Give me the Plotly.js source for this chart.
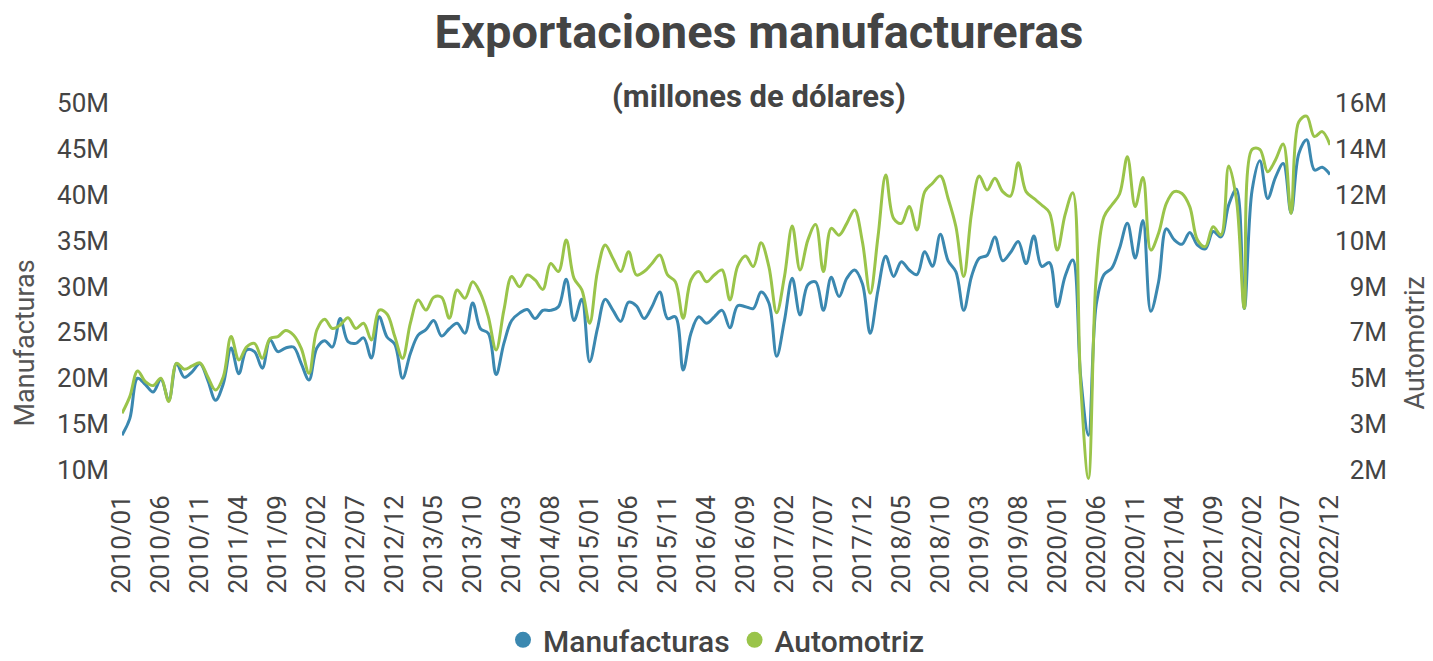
<!DOCTYPE html>
<html>
<head>
<meta charset="utf-8">
<script src="https://cdn.plot.ly/plotly-3.0.1.min.js"></script>
<style>
  html, body { margin: 0; padding: 0; background: #ffffff; }
  #chart { width: 1433px; height: 661px; }
</style>
</head>
<body>
<div id="chart"></div>
<script>
// Monthly categories 2010/01 .. 2022/12
const years = [2010, 2011, 2012, 2013, 2014, 2015, 2016, 2017, 2018, 2019, 2020, 2021, 2022];
const months = ["01","02","03","04","05","06","07","08","09","10","11","12"];
const categories = [];
years.forEach(y => months.forEach(m => categories.push(y + "/" + m)));

// Manufacturas (left axis, millones)
const manufacturas = [
  13.8, 15.6, 20.0, 19.3, 18.5, 19.9, 17.6, 21.6, 20.1, 20.7, 21.6, 19.8,
  17.6, 19.4, 23.3, 20.5, 23.1, 22.9, 21.1, 24.2, 22.9, 23.3, 23.4, 21.6,
  19.8, 23.3, 24.1, 23.4, 26.5, 24.0, 23.8, 24.4, 22.2, 26.7, 24.5, 23.7,
  20.0, 22.7, 24.7, 25.3, 26.3, 24.6, 25.4, 26.0, 24.9, 28.2, 25.4, 24.9,
  20.4, 23.8, 26.3, 27.1, 27.5, 26.5, 27.4, 27.4, 27.8, 30.8, 26.3, 28.6,
  21.8, 25.4, 28.6, 27.4, 26.2, 28.3, 27.9, 26.5, 27.8, 29.4, 26.5, 26.7,
  20.9, 24.9, 26.7, 26.0, 26.7, 27.4, 25.5, 27.9, 27.8, 27.6, 29.4, 28.2,
  22.4, 26.3, 30.9, 26.9, 30.2, 30.5, 27.4, 31.0, 28.9, 30.9, 31.8, 30.3,
  24.9, 29.6, 33.3, 31.1, 32.7, 31.8, 31.3, 33.8, 32.2, 35.7, 32.8, 31.6,
  27.4, 31.1, 33.1, 33.4, 35.4, 32.8, 33.7, 34.9, 32.5, 35.5, 32.2, 32.6,
  27.8, 31.1, 32.9, 20.2, 13.8, 28.0, 31.3, 32.0, 34.2, 36.9, 33.1, 37.2,
  27.3, 30.5, 36.3, 35.1, 34.6, 35.9, 34.5, 34.1, 36.0, 35.4, 38.9, 40.6,
  27.6, 40.5, 43.7, 39.6, 41.9, 43.4, 38.0, 44.5, 46.0, 42.7, 43.0, 42.2
];

// Automotriz (right axis, millones)
const automotriz = [
  3.76, 4.40, 5.38, 4.97, 4.82, 5.10, 4.21, 5.67, 5.44, 5.57, 5.69, 5.16,
  4.65, 5.16, 6.69, 5.80, 6.30, 6.43, 5.86, 6.62, 6.69, 6.92, 6.75, 6.24,
  5.29, 6.94, 7.35, 7.00, 7.13, 7.41, 7.00, 7.20, 6.56, 7.70, 7.55, 6.69,
  5.86, 7.20, 8.09, 7.70, 8.19, 8.19, 7.39, 8.47, 8.15, 8.78, 8.34, 7.45,
  6.18, 7.70, 8.98, 8.59, 9.04, 8.85, 8.49, 9.48, 9.17, 10.37, 8.91, 8.47,
  7.20, 9.17, 10.18, 9.67, 9.17, 9.93, 9.04, 9.17, 9.48, 9.80, 9.04, 8.78,
  7.39, 8.85, 9.17, 8.78, 9.04, 9.23, 8.09, 9.38, 9.76, 9.36, 10.27, 9.36,
  7.60, 8.98, 10.91, 9.23, 10.37, 10.97, 9.17, 10.82, 10.56, 11.01, 11.52, 10.31,
  8.34, 10.50, 12.85, 11.20, 11.01, 11.65, 10.76, 12.22, 12.54, 12.82, 11.96, 10.88,
  8.98, 11.39, 12.82, 12.28, 12.73, 12.22, 12.05, 13.32, 12.22, 11.96, 11.71, 11.42,
  9.99, 11.33, 12.18, 4.91, 1.28, 8.98, 11.26, 11.71, 12.13, 13.55, 11.65, 12.76,
  9.99, 10.63, 11.77, 12.22, 12.15, 11.65, 10.37, 10.12, 10.88, 10.56, 13.20, 11.90,
  7.77, 13.83, 13.83, 12.98, 13.43, 14.04, 11.39, 14.89, 15.10, 14.32, 14.51, 14.00
];

// Tick labels
const leftTickVals = [10, 15, 20, 25, 30, 35, 40, 45, 50];
const leftTickText = ["10M", "15M", "20M", "25M", "30M", "35M", "40M", "45M", "50M"];
const rightTickVals = [1.6, 3.35, 5.1, 6.85, 8.6, 10.35, 12.1, 13.85, 15.6];
const rightTickText = ["2M", "3M", "5M", "7M", "9M", "10M", "12M", "14M", "16M"];
const xTickVals = categories.filter((c, i) => i % 5 === 0);

const BLUE = "#3b88b0";
const GREEN = "#9ac44a";
const FONT = "Roboto, 'Open Sans', sans-serif";

const traces = [
  {
    x: categories, y: manufacturas, type: "scatter", mode: "lines",
    line: { color: BLUE, width: 3, shape: "spline", smoothing: 1 },
    name: "Manufacturas", showlegend: false, yaxis: "y", hoverinfo: "x+y"
  },
  {
    x: categories, y: automotriz, type: "scatter", mode: "lines",
    line: { color: GREEN, width: 3, shape: "spline", smoothing: 1 },
    name: "Automotriz", showlegend: false, yaxis: "y2", hoverinfo: "x+y"
  },
  {
    x: [null], y: [null], type: "scatter", mode: "markers",
    marker: { color: BLUE, size: 20, symbol: "circle" },
    name: "Manufacturas", showlegend: true
  },
  {
    x: [null], y: [null], type: "scatter", mode: "markers",
    marker: { color: GREEN, size: 20, symbol: "circle" },
    name: "Automotriz", showlegend: true
  }
];

const layout = {
  width: 1433, height: 661,
  paper_bgcolor: "#ffffff", plot_bgcolor: "#ffffff",
  font: { family: FONT, color: "#444444" },
  margin: { l: 122, r: 43, t: 80, b: 161, pad: 0 },
  title: {
    text: "<b>Exportaciones manufactureras</b>",
    font: { family: FONT, size: 47, color: "#444444" },
    xref: "container", x: 0.5297, xanchor: "center",
    yref: "container", y: 0.9516, yanchor: "middle"
  },
  showlegend: true,
  legend: {
    orientation: "h",
    xref: "container", x: 0.5, xanchor: "center",
    yref: "container", y: 0.032, yanchor: "middle",
    font: { family: FONT, size: 30, color: "#444444", weight: 500 },
    itemsizing: "trace", traceorder: "normal"
  },
  xaxis: {
    type: "category",
    domain: [0, 0.9527],
    range: [0, 155],
    tickmode: "array", tickvals: xTickVals, ticktext: xTickVals,
    tickangle: -90,
    tickfont: { family: FONT, size: 26, color: "#444444" },
    showgrid: false, zeroline: false, showline: false, ticks: "",
    ticklabelstandoff: -11
  },
  yaxis: {
    range: [6.73, 52.51],
    tickmode: "array", tickvals: leftTickVals, ticktext: leftTickText,
    tickfont: { family: FONT, size: 26, color: "#444444" },
    showgrid: false, zeroline: false, showline: false, ticks: "",
    ticklabelstandoff: 12
  },
  yaxis2: {
    overlaying: "y", side: "right", anchor: "free", position: 1,
    range: [0.455, 16.479],
    tickmode: "array", tickvals: rightTickVals, ticktext: rightTickText,
    ticklabelposition: "inside",
    tickfont: { family: FONT, size: 26, color: "#444444" },
    showgrid: false, zeroline: false, showline: false, ticks: ""
  },
  annotations: [
    {
      text: "<b>(millones de dólares)</b>",
      xref: "paper", x: 0.5024, xanchor: "center",
      yref: "paper", y: 0.960, yanchor: "middle",
      showarrow: false, font: { family: FONT, size: 31, color: "#444444" }
    },
    {
      text: "Manufacturas", textangle: -90,
      xref: "paper", x: -0.0765, xanchor: "center",
      yref: "paper", y: 0.375, yanchor: "middle",
      showarrow: false, font: { family: FONT, size: 27, color: "#555555" }
    },
    {
      text: "Automotriz", textangle: -90,
      xref: "paper", x: 1.0197, xanchor: "center",
      yref: "paper", y: 0.375, yanchor: "middle",
      showarrow: false, font: { family: FONT, size: 27, color: "#555555" }
    }
  ]
};

Plotly.newPlot("chart", traces, layout, { displayModeBar: false, staticPlot: true });
</script>
</body>
</html>
